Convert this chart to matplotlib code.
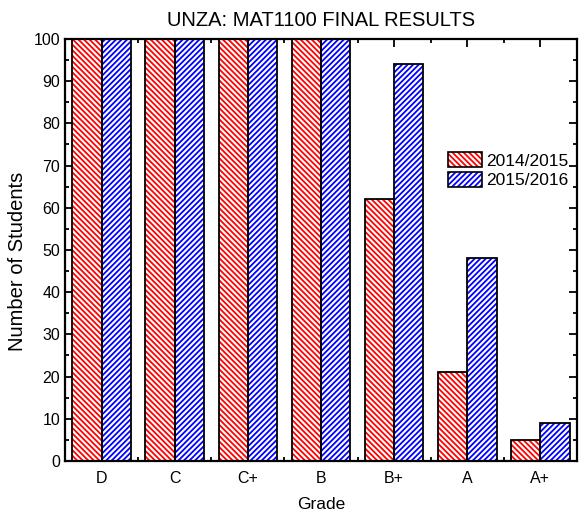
import numpy as np
import matplotlib.pyplot as plt
from matplotlib.patches import Patch
from matplotlib.ticker import MultipleLocator

grades = ['D', 'C', 'C+', 'B', 'B+', 'A', 'A+']
y2014 = [100, 100, 100, 100, 62, 21, 5]
y2015 = [100, 100, 100, 100, 94, 48, 9]

plt.rcParams['font.family'] = ['Liberation Sans', 'DejaVu Sans']
plt.rcParams['hatch.linewidth'] = 1.3

fig = plt.figure(figsize=(5.79, 5.13), dpi=100)
ax = fig.add_axes([0.1123, 0.1014, 0.8842, 0.8226])

x = np.arange(len(grades))
w = 0.4
red_h = '\\' * 6
blue_h = '/' * 6
# hatch first (colored lines), then black outlines on top
ax.bar(x - w / 2, y2014, w, facecolor='white', edgecolor='red', hatch=red_h, linewidth=0)
ax.bar(x + w / 2, y2015, w, facecolor='white', edgecolor='blue', hatch=blue_h, linewidth=0)
ax.bar(x - w / 2, y2014, w, fill=False, edgecolor='black', linewidth=1.3)
ax.bar(x + w / 2, y2015, w, fill=False, edgecolor='black', linewidth=1.3)

ax.set_xlim(-0.5, 6.5)
ax.set_ylim(0, 100)
ax.set_xticks(x)
ax.set_xticklabels(grades)
ax.xaxis.set_minor_locator(MultipleLocator(0.5))
ax.yaxis.set_major_locator(MultipleLocator(10))
ax.yaxis.set_minor_locator(MultipleLocator(5))
ax.tick_params(which='both', direction='in', top=True, right=True, width=1.3, labelsize=11.5)
ax.tick_params(which='major', length=6)
ax.tick_params(which='minor', length=3)
ax.tick_params(axis='x', pad=7)
for s in ax.spines.values():
    s.set_linewidth(1.6)

ax.set_title('UNZA: MAT1100 FINAL RESULTS', fontsize=14.5, pad=9)
ax.set_xlabel('Grade', fontsize=12.5, labelpad=8)
ax.set_ylabel('Number of Students', fontsize=14.5)
ax.yaxis.set_label_coords(-0.075, 0.474)

lh1 = (Patch(facecolor='white', edgecolor='red', hatch=red_h, linewidth=0),
       Patch(fill=False, edgecolor='black', linewidth=1.2))
lh2 = (Patch(facecolor='white', edgecolor='blue', hatch=blue_h, linewidth=0),
       Patch(fill=False, edgecolor='black', linewidth=1.2))
ax.legend([lh1, lh2], ['2014/2015', '2015/2016'], loc='upper left',
          bbox_to_anchor=(0.748, 0.732), frameon=False, fontsize=12.5,
          handlelength=1.95, handleheight=0.95, handletextpad=0.25, labelspacing=0.2,
          borderaxespad=0, borderpad=0)

fig.savefig('out.png', dpi=100)
